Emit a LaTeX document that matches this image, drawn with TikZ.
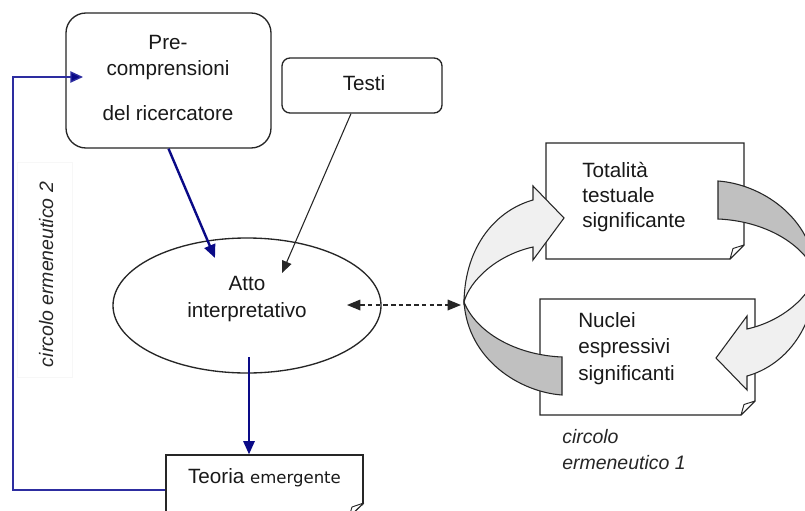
\documentclass[tikz,border=0pt]{standalone}
\usepackage{fontspec}
\setmainfont{Liberation Sans}
\newfontfamily\emfont{DejaVu Sans}
\usetikzlibrary{arrows.meta,shapes.geometric}

\definecolor{navyline}{RGB}{10,10,135}
\definecolor{loopblue}{RGB}{45,45,160}
\definecolor{edgegray}{RGB}{38,38,38}
\definecolor{facelight}{RGB}{240,240,240}
\definecolor{facedark}{RGB}{192,192,192}

\tikzset{
  txt/.style={font=\fontsize{15.5}{18}\selectfont, inner sep=0pt, text=black!90},
  itxt/.style={font=\fontsize{14.6}{17}\selectfont\itshape, inner sep=0pt, text=black!85},
  boxline/.style={draw=edgegray, line width=1pt},
  page/.style={boxline, fill=white},
  fold/.style={draw=edgegray, line width=0.7pt, fill=white, line join=round},
  band/.style={draw=edgegray, line width=0.8pt, line join=miter},
  bluearrow/.style={draw=navyline, line width=1.8pt, -{Triangle[length=10pt,width=8.5pt]}},
  thinarrow/.style={draw=black!85, line width=0.8pt, -{Triangle[length=9pt,width=7.5pt]}},
  dasharrow/.style={draw=black!85, line width=0.9pt, dash pattern=on 3.4pt off 2.4pt,
    {Triangle[length=10pt,width=8pt]}-{Triangle[length=10pt,width=8pt]}},
  loopline/.style={draw=loopblue, line width=1pt, -{Triangle[length=9.5pt,width=8.5pt,fill=navyline]}},
}

\begin{document}
\begin{tikzpicture}[x=0.75pt,y=-0.75pt]
\useasboundingbox (0,0) rectangle (805,510);
\clip (0,0) rectangle (805,510);
\fill[white] (0,0) rectangle (805,510);

% ---- left column: boxes and ellipse ----
\node[boxline, rounded corners=15pt, minimum width=153.75pt, minimum height=101.25pt, inner sep=0pt] (pre) at (168.5,80.5) {};
\node[txt, anchor=base] (pre1) at (168,50) {Pre-};
\node[txt, anchor=base] (pre2) at (168,75) {comprensioni};
\node[txt, anchor=base] (pre3) at (168,120) {del ricercatore};

\node[boxline, rounded corners=6pt, minimum width=120pt, minimum height=41.25pt, inner sep=0pt] (testi) at (362,85.5) {};
\node[txt, anchor=base] (testitxt) at (364,90) {Testi};

\node[boxline, ellipse, minimum width=201pt, minimum height=101.25pt, inner sep=0pt] (atto) at (247,305.5) {};
\node[txt, anchor=base] (atto1) at (247,290) {Atto};
\node[txt, anchor=base] (atto2) at (247,317) {interpretativo};

\node[boxline, fill=white, minimum width=147.75pt, minimum height=52.5pt, inner sep=0pt] (teoria) at (264.5,490) {};
\fill[white] (364.5,503) -- (364.5,522) -- (349,522) -- cycle;
\draw[boxline] (363.6,503) -- (349,517);
\draw[fold] (349,517) -- (352,507) -- (363.6,503) -- cycle;
\node[txt, anchor=base] (teoriatxt) at (264.5,483) {Teoria {\emfont\fontsize{12.4}{15}\selectfont emergente}};

% ---- vertical label of the outer loop ----
\node[draw=black!3, fill=white, minimum width=41.25pt, minimum height=161.25pt, inner sep=0pt] (labelbg) at (44.5,269.5) {};
\node[itxt, rotate=90, anchor=base] (loop2txt) at (53,274.5) {circolo ermeneutico 2};

% ---- right column: the two pages ----
\draw[page] (546,143) -- (744,143) -- (744,245) -- (730,259) -- (546,259) -- cycle;
\draw[fold] (730,259) -- (733,248.5) -- (744,245) -- cycle;
\node[txt, anchor=base west] (tot1) at (582,177) {Totalità};
\node[txt, anchor=base west] (tot2) at (582,202) {testuale};
\node[txt, anchor=base west] (tot3) at (582,227) {significante};

\draw[page] (540,299) -- (755,299) -- (755,401) -- (741,415) -- (540,415) -- cycle;
\draw[fold] (741,415) -- (744,404.5) -- (755,401) -- cycle;
\node[txt, anchor=base west] (nuc1) at (578,327) {Nuclei};
\node[txt, anchor=base west] (nuc2) at (578,353) {espressivi};
\node[txt, anchor=base west] (nuc3) at (578,380) {significanti};

\node[itxt, anchor=base west] (loop1a) at (562,443) {circolo};
\node[itxt, anchor=base west] (loop1b) at (562,469) {ermeneutico 1};

% ---- twisted circular arrows between the pages ----
\filldraw[band, fill=facelight] (533,247) -- (533,260) -- (564,218) -- (533,186) -- (533,200)
  .. controls (497,210) and (465,245) .. (464,302)
  .. controls (470,280) and (497,255) .. cycle;
\filldraw[band, fill=facedark] (464,302) .. controls (468,360) and (520,392) .. (562,395)
  -- (562,357) .. controls (515,355) and (476,332) .. cycle;
\begin{scope}[rotate around={180:(640,288)}]
\filldraw[band, fill=facelight] (533,247) -- (533,260) -- (564,218) -- (533,186) -- (533,200)
  .. controls (497,210) and (465,245) .. (464,302)
  .. controls (470,280) and (497,255) .. cycle;
\filldraw[band, fill=facedark] (464,302) .. controls (468,360) and (520,392) .. (562,395)
  -- (562,357) .. controls (515,355) and (476,332) .. cycle;
\end{scope}

% ---- connectors ----
\coordinate (attoin) at (215,258);
\coordinate (testiin) at (282,273);
\coordinate (attofoot) at (249,357);
\coordinate (dashL) at (347,305);
\coordinate (dashR) at (461,305);
\coordinate (loopcorner) at (13,77);
\coordinate (loopend) at (83,77);

\draw[bluearrow] (pre.south) -- (attoin);
\draw[thinarrow] ([xshift=-8.25pt]testi.south) -- (testiin);
\draw[bluearrow, line width=1.6pt] (attofoot) -- (attofoot |- teoria.north);
\draw[dasharrow] (dashL) -- (dashR);
\draw[loopline] (teoria.west) -| (loopcorner) -- (loopend);
\end{tikzpicture}
\end{document}
